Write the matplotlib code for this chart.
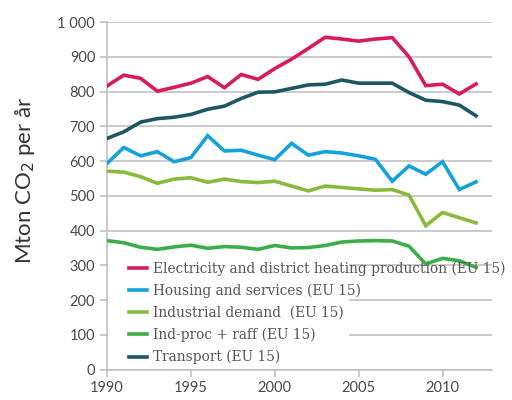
import numpy as np
import matplotlib
matplotlib.use("Agg")
import matplotlib.pyplot as plt
from matplotlib.patches import Rectangle

years = list(range(1990, 2013))

electricity = [816, 847, 838, 801, 812, 824, 843, 811, 849, 835, 866, 893,
               924, 956, 951, 945, 951, 955, 900, 817, 821, 793, 822]
housing = [593, 639, 615, 627, 598, 610, 673, 629, 631, 617, 604, 651,
           617, 627, 623, 615, 605, 542, 586, 562, 598, 518, 540]
industrial = [571, 568, 555, 536, 548, 552, 539, 548, 541, 538, 542, 528,
              514, 528, 524, 520, 516, 518, 502, 414, 452, 437, 422]
indproc = [371, 365, 352, 346, 353, 358, 349, 354, 352, 346, 357, 350,
           351, 357, 367, 370, 371, 370, 355, 304, 320, 313, 294]
transport = [665, 684, 712, 722, 726, 734, 749, 758, 780, 798, 799, 809,
             819, 821, 833, 824, 824, 824, 797, 775, 771, 761, 730]

series = [
    ("Electricity and district heating production (EU 15)", electricity, "#d81b5b"),
    ("Housing and services (EU 15)", housing, "#15a2dc"),
    ("Industrial demand  (EU 15)", industrial, "#8aba3b"),
    ("Ind-proc + raff (EU 15)", indproc, "#3bae49"),
    ("Transport (EU 15)", transport, "#1c5863"),
]

yticks = [0, 100, 200, 300, 400, 500, 600, 700, 800, 900, 1000]
ytick_labels = ["0", "100", "200", "300", "400", "500", "600", "700", "800", "900", "1 000"]
xticks = [1990, 1995, 2000, 2005, 2010]

fig = plt.figure(figsize=(5.12, 4.0), dpi=100)
ax = fig.add_axes([0.209, 0.076, 0.752, 0.869])

for label, vals, col in series:
    ax.plot(years, vals, color=col, lw=2.6, label=label, zorder=3,
            solid_joinstyle="miter")

ax.set_xlim(1990, 2012.95)
ax.set_ylim(0, 1000)
ax.set_yticks(yticks)
ax.set_yticklabels(ytick_labels)
ax.set_xticks(xticks)

ax.set_axisbelow(True)
ax.grid(axis="y", color="#bdbdbd", lw=1.1)
# white patch behind the legend hides the grid there
ax.add_patch(Rectangle((1990.05, 60), 14.4, 280, facecolor="white",
                       edgecolor="none", zorder=1))

for s in ["top", "right"]:
    ax.spines[s].set_visible(False)
for s in ["left", "bottom"]:
    ax.spines[s].set_color("#bdbdbd")
    ax.spines[s].set_linewidth(1.1)
ax.tick_params(colors="#bdbdbd", length=5, width=1.1, labelcolor="#4a4a4a",
               labelsize=10.5)
for t in ax.get_xticklabels() + ax.get_yticklabels():
    t.set_family("Lato")

ax.set_ylabel("Mton CO$_2$ per år", fontsize=16, color="#333333",
              family="Lato")
ax.yaxis.set_label_coords(-0.182, 0.545)

leg = ax.legend(loc="upper left", bbox_to_anchor=(0.057, 0.311), frameon=False,
                prop={"family": "DejaVu Serif", "size": 9.9},
                handlelength=1.31, handletextpad=0.41, labelspacing=0.57,
                borderpad=0, borderaxespad=0)
for t in leg.get_texts():
    t.set_color("#555555")

fig.savefig("out.png", dpi=100)
